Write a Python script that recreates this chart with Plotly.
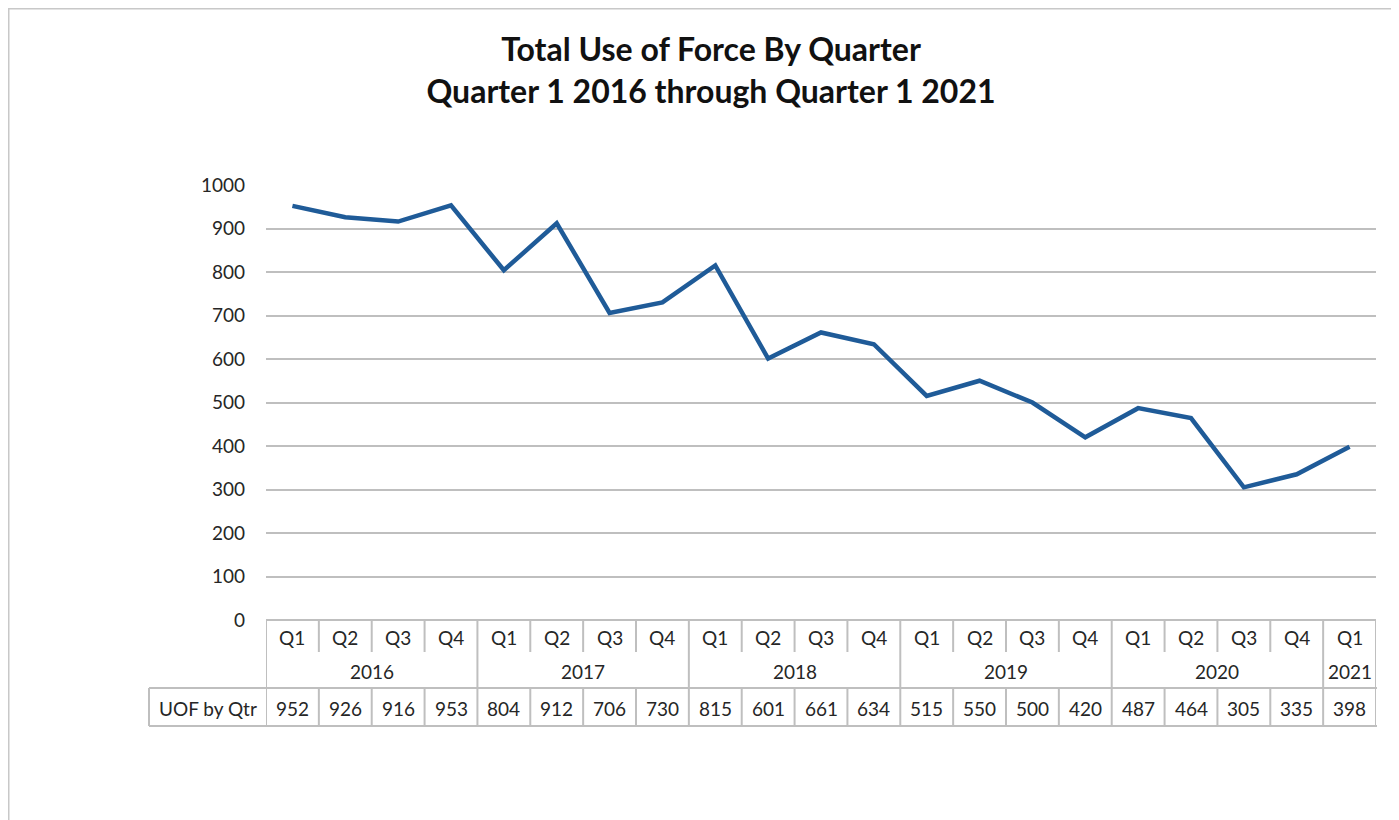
import plotly.graph_objects as go

quarters = ["Q1", "Q2", "Q3", "Q4", "Q1", "Q2", "Q3", "Q4", "Q1", "Q2", "Q3", "Q4",
            "Q1", "Q2", "Q3", "Q4", "Q1", "Q2", "Q3", "Q4", "Q1"]
years = ["2016"] * 4 + ["2017"] * 4 + ["2018"] * 4 + ["2019"] * 4 + ["2020"] * 4 + ["2021"]
uof_by_qtr = [952, 926, 916, 953, 804, 912, 706, 730, 815, 601, 661, 634,
              515, 550, 500, 420, 487, 464, 305, 335, 398]
series_name = "UOF by Qtr"
title_lines = ["Total Use of Force By Quarter", "Quarter 1 2016 through Quarter 1 2021"]
y_ticks = list(range(0, 1001, 100))

OFF = 8  # browser body margin
W, H = 1399 - OFF, 820 - OFF
L, R, T, B = 266 - OFF, 1376 - OFF, 185 - OFF, 620 - OFF
FONT = "Lato"
GRID = "#BFBFBF"
TXT = "#262626"


def py(p):
    # page pixel y -> paper y
    return (B - (p - OFF)) / (B - T)


def px(p):
    # page pixel x -> paper x
    return ((p - OFF) - L) / (R - L)


n = len(uof_by_qtr)
idx = list(range(n))

fig = go.Figure()
fig.add_trace(go.Scatter(
    x=idx, y=uof_by_qtr, mode="lines", name=series_name,
    line=dict(color="#1F5B98", width=4.5),
    hoverinfo="y",
))

shapes = []
annotations = []

# frame lines at top and left
shapes.append(dict(type="line", xref="paper", yref="paper", x0=px(OFF), x1=px(1399), y0=py(OFF + 0.5), y1=py(OFF + 0.5),
                   line=dict(color="#C8C8C8", width=2)))
shapes.append(dict(type="line", xref="paper", yref="paper", x0=px(OFF + 0.5), x1=px(OFF + 0.5), y0=py(OFF), y1=py(820),
                   line=dict(color="#C8C8C8", width=2)))

# table geometry (page pixels)
row_q_top, row_q_sep_end, row_y_bottom, row_v_bottom = 620, 652, 688, 726
label_left = 149
line_style = dict(color=GRID, width=2)

shapes.append(dict(type="line", xref="x", yref="paper", x0=-0.5, x1=n - 0.5,
                   y0=py(row_q_top), y1=py(row_q_top), line=line_style))
for yy in (row_y_bottom, row_v_bottom):
    shapes.append(dict(type="line", xref="paper", yref="paper", x0=px(label_left), x1=px(1377),
                       y0=py(yy), y1=py(yy), line=line_style))
shapes.append(dict(type="line", xref="paper", yref="paper", x0=px(label_left), x1=px(label_left),
                   y0=py(row_y_bottom), y1=py(row_v_bottom), line=line_style))

for i in range(n + 1):
    xb = i - 0.5
    year_boundary = i == 0 or i == n or years[i] != years[i - 1]
    if year_boundary:
        shapes.append(dict(type="line", xref="x", yref="paper", x0=xb, x1=xb,
                           y0=py(row_q_top), y1=py(row_v_bottom), line=line_style))
    else:
        shapes.append(dict(type="line", xref="x", yref="paper", x0=xb, x1=xb,
                           y0=py(row_q_top), y1=py(row_q_sep_end), line=line_style))
        shapes.append(dict(type="line", xref="x", yref="paper", x0=xb, x1=xb,
                           y0=py(row_y_bottom), y1=py(row_v_bottom), line=line_style))

tf = dict(family=FONT, size=19, color=TXT)
for i in idx:
    annotations.append(dict(x=i, y=py(637), xref="x", yref="paper", text=quarters[i],
                            showarrow=False, font=tf, xanchor="center", yanchor="middle"))
    annotations.append(dict(x=i, y=py(708), xref="x", yref="paper", text=str(uof_by_qtr[i]),
                            showarrow=False, font=tf, xanchor="center", yanchor="middle"))

groups = {}
for i, yv in enumerate(years):
    groups.setdefault(yv, []).append(i)
for yv, members in groups.items():
    annotations.append(dict(x=(members[0] + members[-1]) / 2, y=py(671), xref="x", yref="paper",
                            text=yv, showarrow=False, font=tf, xanchor="center", yanchor="middle"))

annotations.append(dict(x=(px(label_left) + px(266)) / 2, y=py(708), xref="paper", yref="paper",
                        text=series_name, showarrow=False, font=tf, xanchor="center", yanchor="middle"))

fig.update_layout(
    width=W, height=H,
    margin=dict(l=L, r=W - R, t=T, b=H - B),
    paper_bgcolor="white", plot_bgcolor="white",
    showlegend=False,
    title=dict(text="<b>" + "<br>".join(title_lines) + "</b>", x=(711 - OFF) / W, xref="container",
               xanchor="center", y=1 - 53 / H, yanchor="top",
               font=dict(family=FONT, size=32, color="#111111")),
    xaxis=dict(range=[-0.5, n - 0.5], showticklabels=False, showgrid=False, zeroline=False,
               showline=False, fixedrange=True),
    yaxis=dict(range=[0, 1000], tickvals=y_ticks, showgrid=True, gridcolor=GRID, gridwidth=2,
               zeroline=False, showline=False, ticks="", ticklabelstandoff=20,
               tickfont=dict(family=FONT, size=19, color=TXT), fixedrange=True),
    shapes=shapes,
    annotations=annotations,
)

fig.write_html("out.html")
